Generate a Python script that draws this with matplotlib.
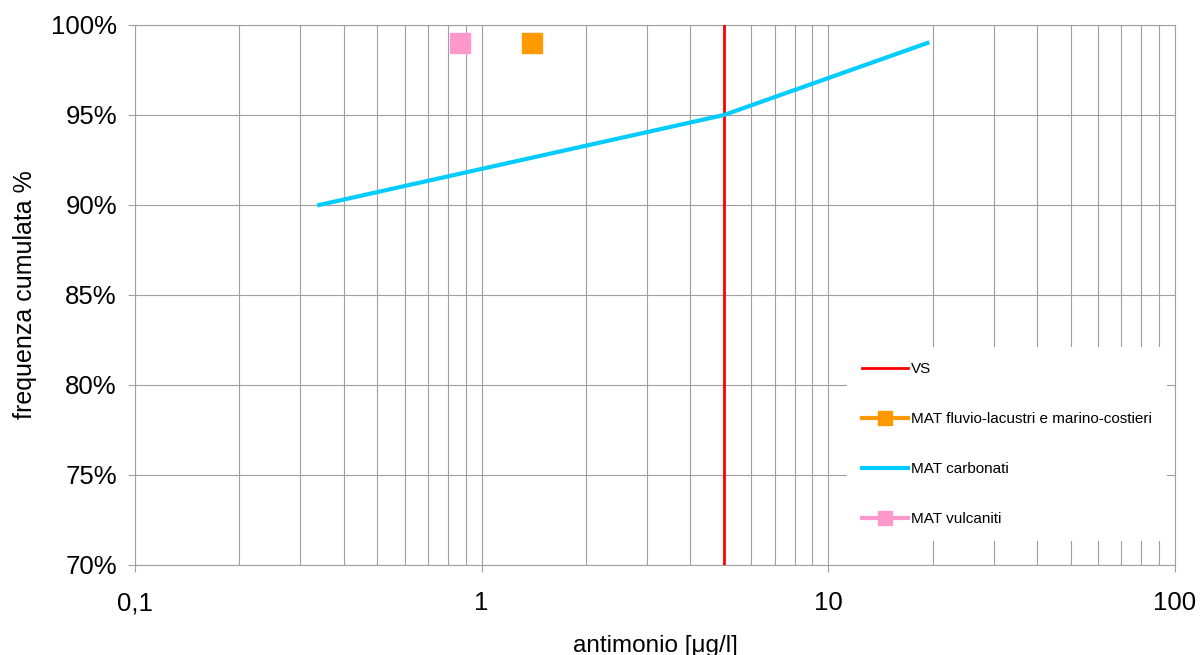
import matplotlib
matplotlib.use("Agg")
import matplotlib.pyplot as plt
from matplotlib.ticker import FixedLocator, FuncFormatter, LogLocator, NullFormatter

plt.rcParams['font.family'] = ['Liberation Sans', 'DejaVu Sans']

# data
vs_x = [5, 5]
vs_y = [0, 100]
carb_x = [0.34, 5, 19.3]
carb_y = [90, 95, 99]
fluvio_x = [1.4]
fluvio_y = [99]
vulc_x = [0.865]
vulc_y = [99]
y_ticks = [70, 75, 80, 85, 90, 95, 100]
x_ticks = [0.1, 1, 10, 100]
x_labels = ['0,1', '1', '10', '100']

fig = plt.figure(figsize=(12, 6.55), dpi=100)
ax = fig.add_axes([135 / 1200, 90 / 655, 1040 / 1200, 540 / 655])

ax.plot(vs_x, vs_y, color='#ff0000', lw=2, label='VS', zorder=3)
ax.plot(fluvio_x, fluvio_y, color='#ff9900', lw=3, marker='s', ms=15,
        label='MAT fluvio-lacustri e marino-costieri', zorder=4)
ax.plot(carb_x, carb_y, color='#00ccff', lw=3, label='MAT carbonati', zorder=3)
ax.plot(vulc_x, vulc_y, color='#ff99cc', lw=3, marker='s', ms=15,
        label='MAT vulcaniti', zorder=4)

ax.set_xscale('log')
ax.set_xlim(0.1, 100)
ax.set_ylim(70, 100)
ax.xaxis.set_major_locator(FixedLocator(x_ticks))
ax.xaxis.set_major_formatter(FuncFormatter(lambda v, p: x_labels[x_ticks.index(v)] if v in x_ticks else ''))
ax.xaxis.set_minor_locator(LogLocator(base=10, subs=range(2, 10)))
ax.xaxis.set_minor_formatter(NullFormatter())
ax.set_yticks(y_ticks)
ax.set_yticklabels([f'{t}%' for t in y_ticks])

ax.grid(True, which='both', axis='x', color='#a0a0a0', lw=0.8)
ax.grid(True, which='major', axis='y', color='#a0a0a0', lw=0.8)
ax.set_axisbelow(True)
for s in ax.spines.values():
    s.set_color('#a0a0a0')
ax.tick_params(axis='both', which='both', colors='#a0a0a0', labelcolor='black',
               labelsize=18.5, length=5)
ax.tick_params(axis='x', which='minor', length=0)
ax.tick_params(axis='x', pad=14)
ax.tick_params(axis='y', pad=8)

ax.set_xlabel('antimonio [\u03bcg/l]', fontsize=17.5, labelpad=14)
ax.set_ylabel('frequenza cumulata %', fontsize=18, labelpad=10)

leg = ax.legend(loc='lower right', bbox_to_anchor=(1.0, 0.03), frameon=True,
                fancybox=False, edgecolor='none', framealpha=1,
                prop={'family': ['Liberation Sans Narrow', 'Liberation Sans'], 'size': 11},
                labelspacing=2.35, handlelength=3.0, borderpad=1.0, handletextpad=0.2,
                markerscale=0.7)

fig.savefig('out.png', dpi=100)
